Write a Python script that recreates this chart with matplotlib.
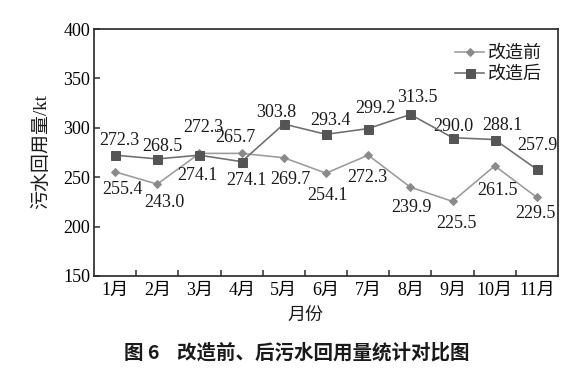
import matplotlib; matplotlib.use("Agg")
import matplotlib.pyplot as plt
import numpy as np

months = ["1月","2月","3月","4月","5月","6月","7月","8月","9月","10月","11月"]
before = [255.4, 243.0, 274.1, 274.1, 269.7, 254.1, 272.3, 239.9, 225.5, 261.5, 229.5]
after = [272.3, 268.5, 272.3, 265.7, 303.8, 293.4, 299.2, 313.5, 290.0, 288.1, 257.9]
yticks = [150, 200, 250, 300, 350, 400]

# label offsets (points) from each marker
off_after = [(4,15),(5,12),(4,28),(-6,24),(-8,12),(4,14),(7,20),(7,17),(1,11),(8,14),(0,24)]
off_before = [(7,-18),(7,-18),(-2,-22),(5,-27),(7,-22),(1,-22),(-1,-22),(1,-20),(4,-22),(3,-25),(-1,-16)]

SERIF = ["Liberation Serif", "Noto Sans CJK SC"]
plt.rcParams.update({"font.family": SERIF, "text.color": "#1a1a1a"})
BC = "#8a8a8a"; BL = "#9a9a9a"; AC = "#555555"; AL = "#6e6e6e"; K = "#2a2a2a"

fig = plt.figure(figsize=(583/72, 372/72), dpi=72)
fig.patch.set_facecolor("white")
ax = fig.add_axes([94/583, 1-276/372, 464/583, 247/372])
x = np.arange(1, len(months)+1)
ax.plot(x, before, "-D", color=BL, mfc=BC, mec=BC, ms=6, lw=1.6, label="改造前", zorder=3)
ax.plot(x, after, "-s", color=AL, mfc=AC, mec=AC, ms=9, lw=1.6, label="改造后", zorder=4)
for xi, y, (dx, dy) in zip(x, after, off_after):
    ax.annotate(f"{y:.1f}", (xi, y), xytext=(dx, dy), textcoords="offset points",
                ha="center", va="center", fontsize=18)
for xi, y, (dx, dy) in zip(x, before, off_before):
    ax.annotate(f"{y:.1f}", (xi, y), xytext=(dx, dy), textcoords="offset points",
                ha="center", va="center", fontsize=18)

ax.set_xlim(0.5, len(months)+0.5); ax.set_ylim(150, 400)
ax.set_yticks(yticks); ax.set_yticklabels([str(t) for t in yticks], fontsize=18)
ax.set_xticks(x); ax.set_xticklabels(months, fontsize=18)
ax.set_xticks(np.arange(1.5, len(months)), minor=True)
ax.tick_params(axis="x", which="major", length=0, pad=6)
ax.tick_params(axis="x", which="minor", direction="in", length=6, width=1.5, color=K)
ax.tick_params(axis="y", direction="in", length=6, width=1.5, color=K, pad=4)
for sp in ax.spines.values():
    sp.set_color(K); sp.set_linewidth(1.7)

ax.legend(loc="upper right", frameon=False, fontsize=18, handlelength=1.6, handletextpad=0.2,
          labelspacing=0.2, borderaxespad=0.5)
fig.text(305/583, 1-316/372, "月份", ha="center", va="center", fontsize=18)
fig.text(41/583, 1-152/372, "污水回用量/kt", ha="center", va="center", rotation=90, fontsize=19)
fig.text(297/583, 1-353/372, "图 6    改造前、后污水回用量统计对比图", ha="center", va="center",
         fontsize=19.5, fontweight="bold", family=["Noto Sans CJK SC"])
fig.savefig("out.png", dpi=72, facecolor="white")
